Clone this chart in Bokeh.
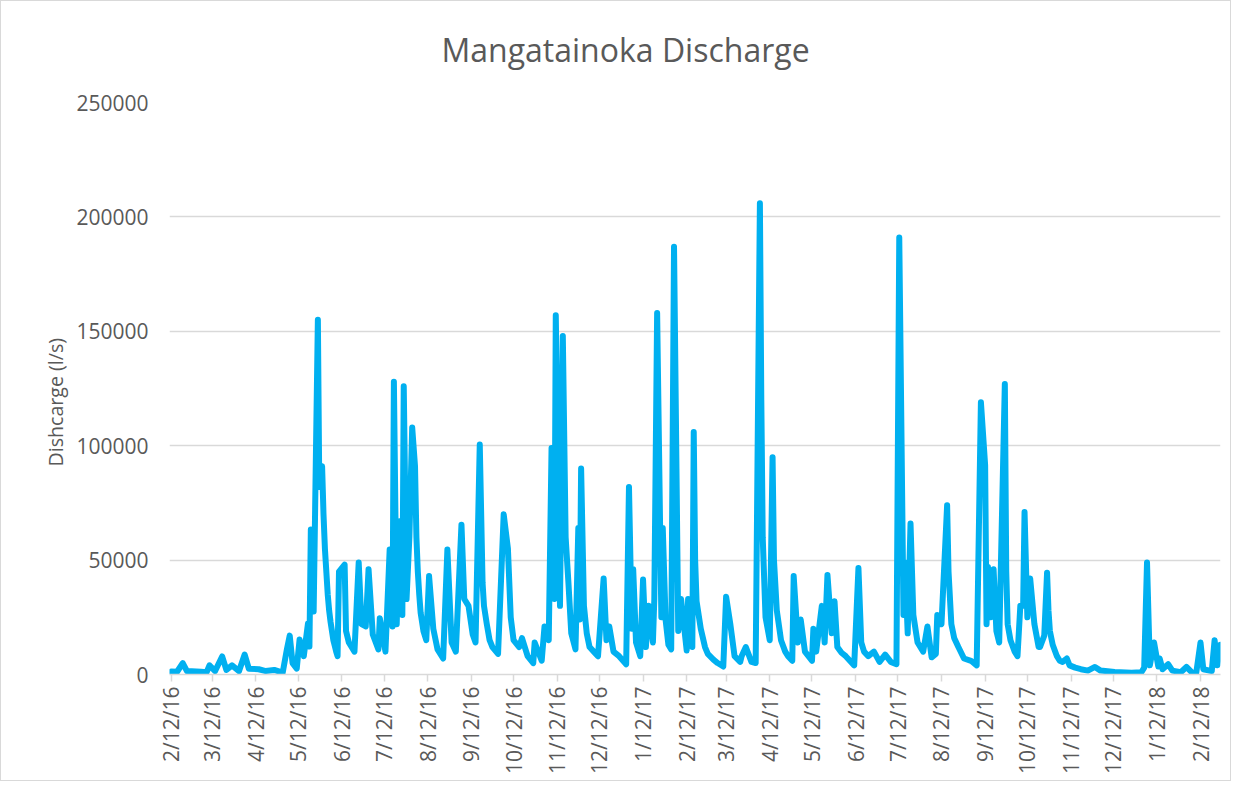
import math
import datetime
from bokeh.plotting import figure
from bokeh.models import FixedTicker, Range1d, NumeralTickFormatter, Title
from bokeh.embed import file_html
from bokeh.resources import INLINE

# ---------------- data ----------------
start_date = "2/12/16"  # first day of the record (m/d/yy)

# days since start_date
day_offset = [
    0, 4, 8, 11, 21, 25, 27, 31, 36, 39,
    43, 48, 52, 55, 62, 67, 73, 79, 82, 84,
    86, 89, 91, 94, 97, 98, 99, 101, 104, 105,
    106, 107, 108, 109, 110, 111, 112, 113, 114, 115,
    116, 117, 118, 119, 123, 124, 126, 130, 133, 135,
    138, 140, 143, 147, 148, 152, 155, 157, 158, 160,
    162, 164, 165, 167, 169, 171, 173, 174, 175, 176,
    177, 179, 181, 183, 186, 189, 193, 196, 199, 202,
    206, 208, 211, 214, 216, 219, 221, 222, 224, 226,
    228, 232, 236, 239, 241, 243, 247, 249, 253, 257,
    258, 263, 265, 268, 270, 272, 273, 276, 278, 280,
    282, 284, 287, 289, 290, 291, 293, 295, 297, 300,
    303, 307, 309, 311, 314, 318, 323, 325, 327, 328,
    330, 333, 335, 337, 339, 342, 343, 345, 348, 349,
    351, 353, 355, 357, 360, 362, 366, 367, 370, 371,
    372, 373, 376, 379, 381, 385, 388, 392, 394, 397,
    400, 404, 405, 408, 412, 415, 418, 419, 420, 422,
    425, 427, 428, 430, 433, 436, 438, 441, 442, 445,
    447, 450, 455, 456, 458, 462, 464, 466, 469, 471,
    473, 476, 479, 485, 488, 490, 492, 495, 499, 503,
    507, 511, 515, 517, 520, 521, 523, 525, 527, 530,
    534, 537, 540, 543, 544, 547, 551, 552, 554, 556,
    559, 563, 568, 572, 575, 578, 579, 580, 582, 584,
    586, 588, 592, 593, 594, 596, 599, 601, 603, 605,
    606, 608, 610, 613, 616, 617, 620, 622, 623, 624,
    626, 629, 631, 633, 636, 638, 642, 646, 651, 656,
    660, 670, 682, 689, 691, 693, 695, 698, 701, 702,
    704, 708, 711, 717, 721, 725, 728, 731, 733, 739,
    741, 743, 745,
]

# discharge in l/s
discharge = [
    1300, 1200, 5000, 1500, 1200, 1000, 4000, 1500, 7900, 2000,
    4000, 1500, 8700, 2500, 2300, 1500, 2000, 800, 11000, 17000,
    5000, 2600, 15300, 8000, 22400, 12200, 63400, 27500, 155000, 82000,
    88000, 91000, 70000, 55000, 45000, 35000, 28000, 23000, 19000, 15000,
    12500, 10000, 8000, 45000, 48000, 19000, 14000, 10000, 49000, 22000,
    21000, 46000, 17500, 11000, 24600, 10000, 54600, 21000, 128000, 22000,
    67000, 26000, 126000, 33000, 60000, 108000, 91000, 60000, 45000, 35000,
    27000, 19000, 15000, 43000, 20000, 11000, 7000, 54600, 14000, 10000,
    65500, 33000, 30000, 17500, 14000, 100500, 40000, 30000, 22000, 15000,
    12000, 9000, 70000, 55000, 25000, 15000, 12000, 15900, 8000, 5000,
    14000, 6000, 21000, 15000, 99000, 33000, 157000, 30000, 148000, 60000,
    40000, 18000, 11000, 64000, 24000, 90000, 30000, 18000, 12000, 10000,
    8000, 42000, 15000, 21000, 10000, 8000, 4500, 82000, 20000, 46000,
    14000, 8000, 41500, 12000, 30000, 14000, 33000, 158000, 25000, 64000,
    24000, 13000, 11000, 187000, 19000, 33000, 10500, 33000, 12000, 106000,
    50000, 32000, 20000, 12000, 9000, 6500, 5000, 3500, 34000, 22000,
    8000, 5500, 8000, 12000, 5500, 5000, 206000, 120000, 60000, 25000,
    15000, 95000, 50000, 28000, 15000, 10000, 8000, 6000, 43000, 14000,
    24000, 10000, 6000, 20000, 10000, 30000, 14000, 43500, 18000, 32000,
    12000, 9500, 8000, 4000, 46500, 14000, 10000, 8000, 10000, 5500,
    8700, 5500, 4500, 191000, 26000, 49000, 18000, 66000, 26000, 14000,
    10000, 21000, 7500, 9000, 26000, 22000, 74000, 45000, 22000, 16000,
    12000, 7000, 6000, 4000, 119000, 91500, 22000, 47000, 25000, 46000,
    19000, 14000, 127000, 45000, 22000, 15000, 10000, 8000, 30000, 30000,
    71000, 25000, 42000, 22000, 12000, 12000, 17000, 44500, 28000, 19000,
    13000, 8000, 6000, 5500, 7000, 4000, 3000, 2300, 1700, 3300,
    1700, 1100, 800, 1000, 3000, 49000, 4000, 14000, 3500, 7000,
    2300, 4500, 1700, 1000, 3300, 800, 800, 14000, 2300, 1500,
    15000, 4000, 13000,
]
assert len(day_offset) == len(discharge)

tick_labels = [
    "2/12/16", "3/12/16", "4/12/16", "5/12/16", "6/12/16", "7/12/16", "8/12/16",
    "9/12/16", "10/12/16", "11/12/16", "12/12/16", "1/12/17", "2/12/17", "3/12/17",
    "4/12/17", "5/12/17", "6/12/17", "7/12/17", "8/12/17", "9/12/17", "10/12/17",
    "11/12/17", "12/12/17", "1/12/18", "2/12/18",
]
y_ticks = [0, 50000, 100000, 150000, 200000, 250000]

title_text = "Mangatainoka Discharge"
y_label = "Dishcarge (l/s)"

# ---------------- derived tick positions ----------------
t0 = datetime.datetime.strptime(start_date, "%m/%d/%y")
tick_days = [(datetime.datetime.strptime(s, "%m/%d/%y") - t0).days for s in tick_labels]

FONT = "Open Sans"
TXT = "#595959"
GRID = "#D9D9D9"

p = figure(
    width=1231, height=781,
    x_range=Range1d(-1.4, 745.2), y_range=Range1d(0, 250000),
    output_backend="svg", toolbar_location=None,
    min_border_left=168, min_border_right=12,
    min_border_top=101, min_border_bottom=108,
)
p.outline_line_color = None
p.background_fill_color = "white"
p.border_fill_color = "white"
p.styles = {"border": "1px solid #D9D9D9"}

# spacer between the plot frame and the title
p.add_layout(Title(text=" ", text_font_size="13px"), "above")

# title
p.title.text = title_text
p.title.align = "left"
p.title.offset = 272
p.title.text_font = FONT
p.title.text_font_size = "32px"
p.title.text_font_style = "normal"
p.title.text_color = TXT

# grid
p.xgrid.visible = False
p.ygrid.grid_line_color = GRID
p.ygrid.grid_line_width = 1.3
p.ygrid.ticker = FixedTicker(ticks=y_ticks)

# y axis
p.yaxis.ticker = FixedTicker(ticks=y_ticks)
p.yaxis.formatter = NumeralTickFormatter(format="0")
p.yaxis.axis_line_color = None
p.yaxis.major_tick_line_color = None
p.yaxis.minor_tick_line_color = None
p.yaxis.major_label_text_font = FONT
p.yaxis.major_label_text_font_size = "21px"
p.yaxis.major_label_text_color = TXT
p.yaxis.major_label_standoff = 15

# y axis title (placed as a side title so it can sit where the reference has it)
p.add_layout(Title(text=y_label, align="left", offset=208, text_font=FONT,
                   text_font_size="19.6px", text_font_style="normal",
                   text_color=TXT), "left")

# x axis
p.xaxis.ticker = FixedTicker(ticks=tick_days)
p.xaxis.major_label_overrides = {d: s for d, s in zip(tick_days, tick_labels)}
p.xaxis.major_label_orientation = math.pi / 2
p.xaxis.axis_line_color = GRID
p.xaxis.axis_line_width = 1.5
p.xaxis.major_tick_line_color = GRID
p.xaxis.major_tick_line_width = 1.5
p.xaxis.major_tick_in = 0
p.xaxis.major_tick_out = 7
p.xaxis.minor_tick_line_color = None
p.xaxis.major_label_text_font = FONT
p.xaxis.major_label_text_font_size = "21px"
p.xaxis.major_label_text_color = TXT
p.xaxis.major_label_standoff = 5

p.line(day_offset, discharge, line_color="#00B0F0", line_width=6,
       line_join="round", line_cap="round")

open("out.html", "w").write(file_html(p, INLINE))
